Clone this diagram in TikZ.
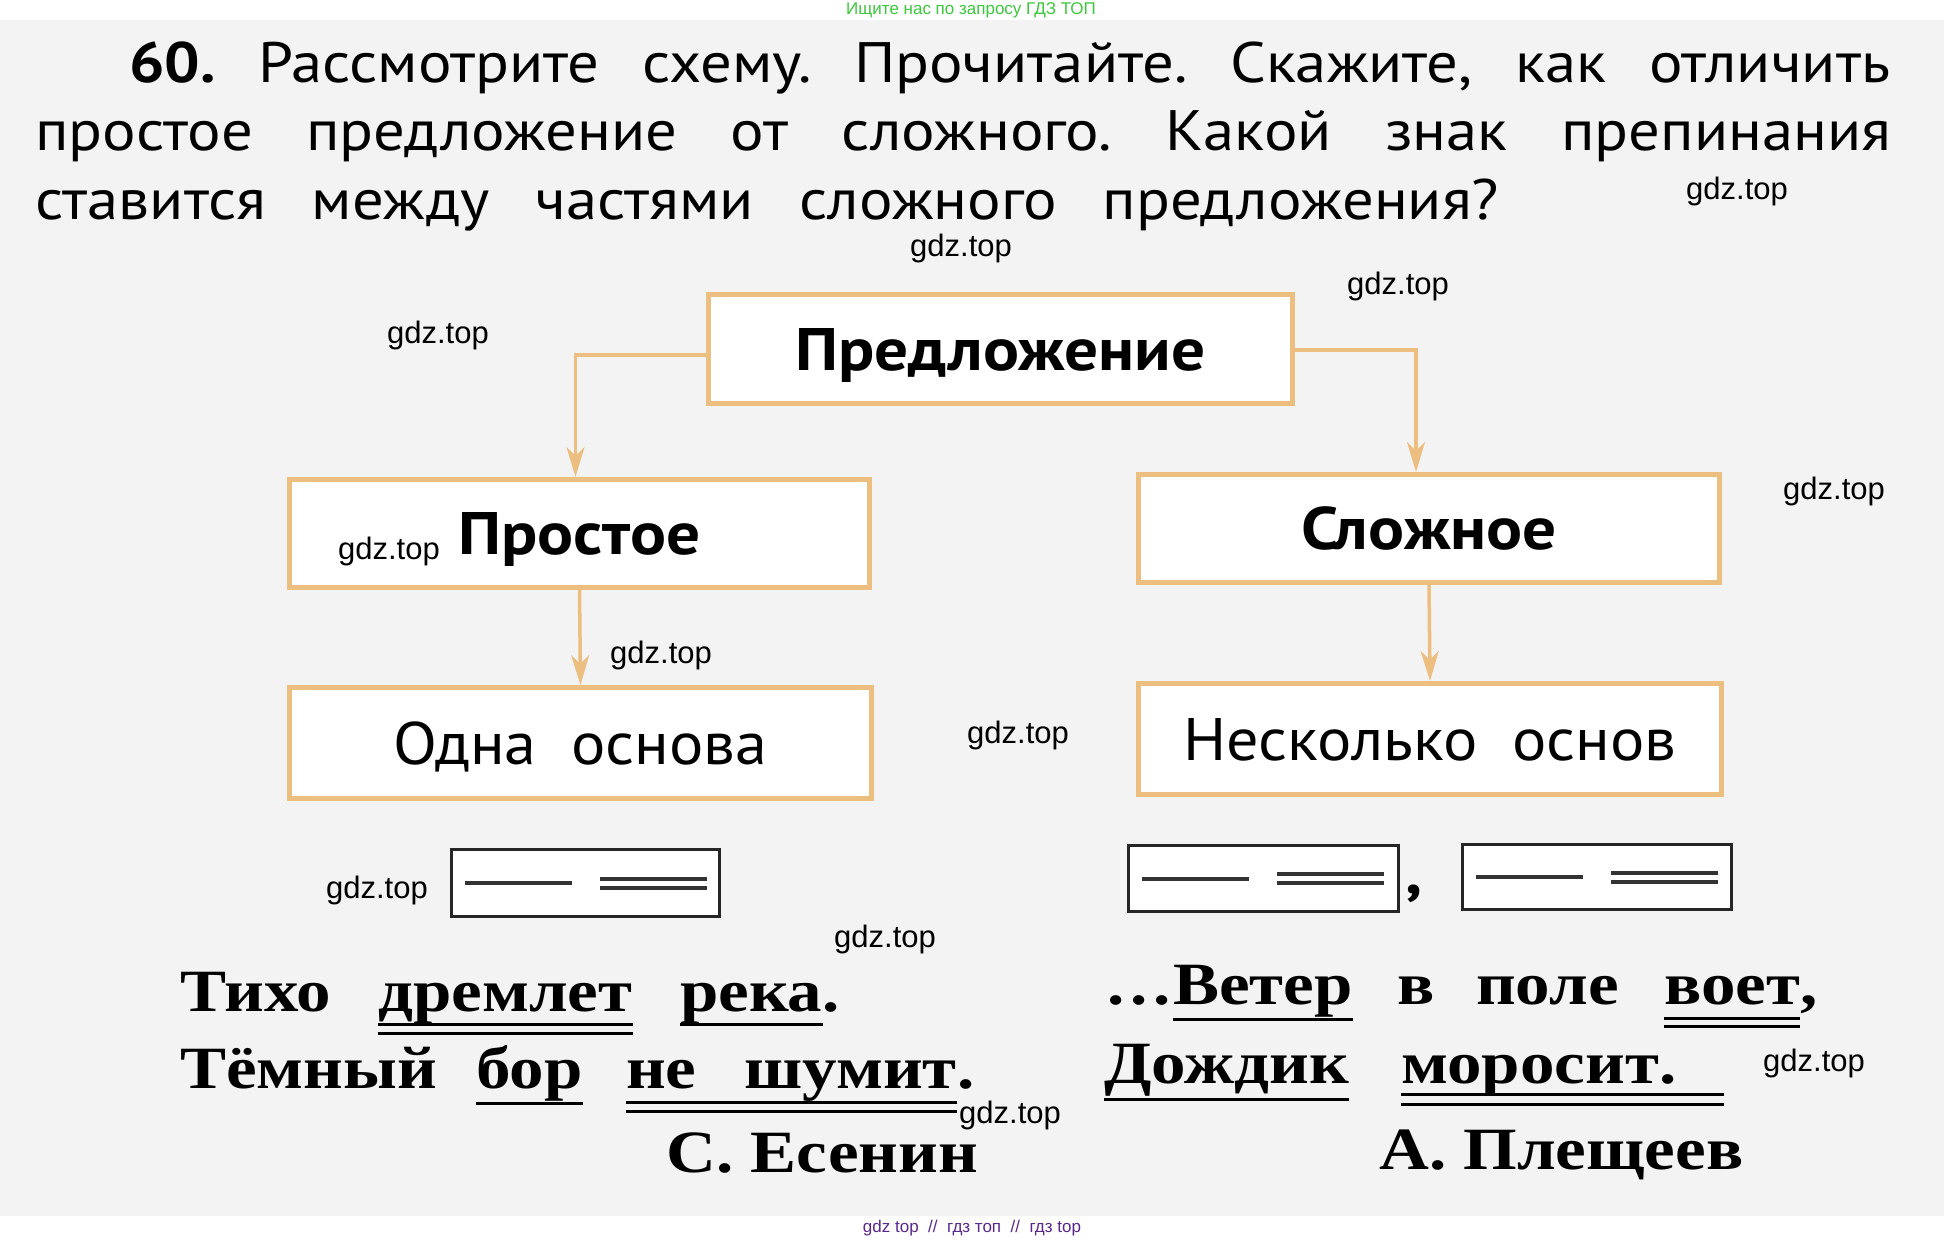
\documentclass[tikz,border=0pt]{standalone}
\usepackage{fontspec}
\setmainfont{Liberation Serif}
\newfontfamily\hsans[FakeStretch=1.1]{PT Sans}
\newfontfamily\bsans[FakeStretch=1.12]{PT Sans}
\newfontfamily\rsans[FakeStretch=1.07]{PT Sans}
\newfontfamily\sser[FakeStretch=1.15]{Liberation Serif}
\newfontfamily\wsans{Liberation Sans}
\usetikzlibrary{arrows.meta}
\frenchspacing
\definecolor{tanc}{RGB}{236,190,128}
\definecolor{bgc}{RGB}{243,243,243}
\definecolor{wgreen}{RGB}{60,200,60}
\definecolor{wpurple}{RGB}{90,40,140}
\tikzset{
  head/.style={anchor=base west, inner sep=0pt, text depth=0pt, font=\hsans\fontsize{57}{60}\selectfont},
  obox/.style={draw=tanc, line width=5pt, fill=white, inner sep=0pt, text height=42pt, text depth=0pt},
  btxt/.style={font=\bsans\bfseries\fontsize{60}{60}\selectfont},
  rtxt/.style={font=\rsans\fontsize{60}{60}\selectfont},
  conn/.style={draw=tanc, line width=3.5pt, -{Stealth[length=30pt,width=18pt,inset=9pt]}},
  sbox/.style={draw=black!85, line width=2.5pt, fill=white, inner sep=0pt},
  sline/.style={draw=black!80, line width=4pt},
  word/.style={anchor=base west, inner sep=0pt, font=\sser\bfseries\fontsize{60}{60}\selectfont},
  uline/.style={draw=black, line width=3pt},
  wm/.style={inner sep=0pt, font=\wsans\fontsize{31}{31}\selectfont}
}
\begin{document}
\begin{tikzpicture}[x=1pt,y=-1pt]
\useasboundingbox (0,0) rectangle (1944,1242);
\fill[white] (0,0) rectangle (1944,1242);
\fill[bgc] (0,20) rectangle (1944,1216);

% heading
\node[head] (h1) at (129,82) {\makebox[1761pt][s]{\textbf{60.} Рассмотрите схему. Прочитайте. Скажите, как отличить}};
\node[head] (h2) at (35,150) {\makebox[1856pt][s]{простое предложение от сложного. Какой знак препинания}};
\node[head] (h3) at (35,219) {\makebox[1464pt][s]{ставится между частями сложного предложения?}};

% boxes
\node[obox, btxt, minimum width=584pt, minimum height=109pt] (pred) at (1000.5,349) {Предложение};
\node[obox, btxt, minimum width=580pt, minimum height=108pt] (prost) at (579.5,533.5) {Простое};
\node[obox, btxt, minimum width=581pt, minimum height=108pt] (slozh) at (1429,528.5) {Сложное};
\node[obox, rtxt, minimum width=582pt, minimum height=111pt] (one) at (580.5,743) {Одна\ \ основа};
\node[obox, rtxt, minimum width=583pt, minimum height=111pt] (sev) at (1430,739) {Несколько\ \ основ};

\draw[conn] ([yshift=-6pt]pred.west) -| ([xshift=-4pt]prost.north);
\draw[conn] ([yshift=-1pt]pred.east) -| ([xshift=-13pt]slozh.north);
\draw[conn] (prost.south) -- (one.north);
\draw[conn] (slozh.south) -- (sev.north);

% schemes
\node[sbox, minimum width=268pt, minimum height=67pt] (s1) at (585.5,883) {};
\node[sbox, minimum width=270pt, minimum height=66pt] (s2) at (1263.5,878.5) {};
\node[sbox, minimum width=269pt, minimum height=65pt] (s3) at (1597,877) {};
\foreach \s in {s1,s2,s3}{
  \draw[sline] ([xshift=15pt]\s.west) -- ([xshift=122pt]\s.west);
  \draw[sline] ([xshift=150pt,yshift=4.5pt]\s.west) -- ([xshift=257pt,yshift=4.5pt]\s.west);
  \draw[sline] ([xshift=150pt,yshift=-4.5pt]\s.west) -- ([xshift=257pt,yshift=-4.5pt]\s.west);
}
\node[anchor=base, inner sep=0pt, font=\hsans\bfseries\fontsize{62}{62}\selectfont] (cm) at (1414,893) {,};

% sentences, left
\node[word] (a1) at (180,1011) {Тихо};
\node[word] (a2) at (378,1011) {дремлет};
\node[word] (a3) at (680,1011) {река};
\node[word] (a3p) at (a3.base east) {.};
\node[word] (b1) at (180,1088) {Тёмный};
\node[word] (b2) at (476,1088) {бор};
\node[word] (b3) at (626,1088) {не};
\node[word] (b4) at (744,1088) {шумит};
\node[word] (b4p) at (b4.base east) {.};
% right
\node[word] (c1) at (1173,1004) {Ветер};
\node[word, anchor=base east] (c0) at (c1.base west) {.\kern6pt.\kern6pt.\kern2pt};
\node[word] (c2) at (1397,1004) {в};
\node[word] (c3) at (1476,1004) {поле};
\node[word] (c4) at (1664,1004) {воет};
\node[word] (c4p) at (c4.base east) {,};
\node[word] (d1) at (1104,1083) {Дождик};
\node[word] (d2) at (1401,1083) {моросит};
\node[word] (d2p) at (d2.base east) {.};
% authors
\node[word] (au1) at (666,1172) {С. Есенин};
\node[word] (au2) at (1379,1169) {А. Плещеев};

% underlines
\draw[uline] ([yshift=-13pt]a2.base west) -- ([yshift=-13pt]a2.base east);
\draw[uline] ([yshift=-22pt]a2.base west) -- ([yshift=-22pt]a2.base east);
\draw[uline] ([yshift=-13pt]a3.base west) -- ([yshift=-13pt]a3.base east);
\draw[uline] ([yshift=-15pt]b2.base west) -- ([yshift=-15pt]b2.base east);
\draw[uline] ([yshift=-14pt]b3.base west) -- ([yshift=-14pt]b4.base east);
\draw[uline] ([yshift=-23pt]b3.base west) -- ([yshift=-23pt]b4.base east);
\draw[uline] ([yshift=-15pt]c1.base west) -- ([yshift=-15pt]c1.base east);
\draw[uline] ([yshift=-14pt]c4.base west) -- ([yshift=-14pt]c4.base east);
\draw[uline] ([yshift=-22pt]c4.base west) -- ([yshift=-22pt]c4.base east);
\draw[uline] ([yshift=-16pt]d1.base west) -- ([yshift=-16pt]d1.base east);
\draw[uline] ([yshift=-11pt]d2.base west) -- ([xshift=323pt,yshift=-11pt]d2.base west);
\draw[uline] ([yshift=-21pt]d2.base west) -- ([xshift=323pt,yshift=-21pt]d2.base west);

% watermarks
\node[wm] (g1) at (1737,191) {gdz.top};
\node[wm] (g2) at (961,248) {gdz.top};
\node[wm] (g3) at (1398,286) {gdz.top};
\node[wm] (g4) at (438,335) {gdz.top};
\node[wm] (g5) at (1834,491) {gdz.top};
\node[wm] (g6) at (389,551) {gdz.top};
\node[wm] (g7) at (661,655) {gdz.top};
\node[wm] (g8) at (1018,735) {gdz.top};
\node[wm] (g9) at (377,890) {gdz.top};
\node[wm] (g10) at (885,939) {gdz.top};
\node[wm] (g11) at (1814,1063) {gdz.top};
\node[wm] (g12) at (1010,1115) {gdz.top};

\node[inner sep=0pt, text=wgreen, font=\wsans\fontsize{17}{17}\selectfont] (topt) at (971,10) {Ищите нас по запросу ГДЗ ТОП};
\node[inner sep=0pt, text=wpurple, font=\wsans\fontsize{17}{17}\selectfont] (bott) at (972,1228) {gdz top\ \ //\ \ гдз топ\ \ //\ \ гдз top};
\end{tikzpicture}
\end{document}
